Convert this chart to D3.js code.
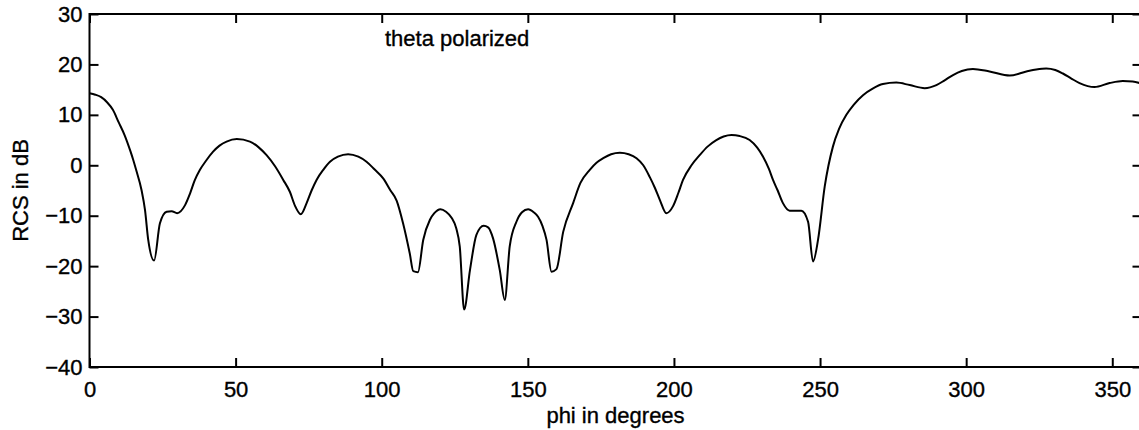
<!DOCTYPE html>
<html>
<head>
<meta charset="utf-8">
<script src="https://cdn.jsdelivr.net/npm/d3@7"></script>
<style>
  html, body { margin: 0; padding: 0; background: #fff; }
  svg { display: block; }
  text { font-family: "Liberation Sans", Arial, Helvetica, sans-serif; fill: #000; stroke: #000; stroke-width: 0.35px; }
</style>
</head>
<body>
<svg id="chart" width="1139" height="430"></svg>
<script>
// ---- data ----
const phi = [0,2,4,6,8,10,12,14,15,16,17.8,19,20.1,22.1,24.1,26.4,28.1,30,32.7,34.4,36,37.8,40,42.3,44.5,46.9,50.4,54.9,58,60.6,63.5,66.3,68.6,70.3,72.3,74.3,76,77.7,80,82.3,85,88.5,92,94.8,97.5,100.5,103,105.1,107.3,109.6,110.8,112.4,114.2,116.5,118,120.1,122,123.9,125.5,126.7,128.2,130.2,132.4,134.9,136.4,138.1,140.4,142.1,143.8,146.1,148,150.1,152,153.5,155,156.4,158.1,159.8,162.1,165.5,168,171.2,173.5,175.8,178.5,181.5,184.5,187.2,189.5,191.7,193.5,195.2,197.4,199.7,201.5,203.1,206,208.8,211.5,214.5,217,219.7,222.5,225.9,228.5,230.5,232.5,233.9,235.5,237.3,239.6,243.6,245.9,247.6,249.3,251.6,254.4,256.5,259,261.5,264.7,268,271.5,276.1,280.7,285.8,289.8,292.5,295.5,298.5,302.3,308,314.9,320.6,324,327.4,330.5,333.1,336,338.8,343.9,349.1,353.6,357,360];
const rcs = [14.3,14.0,13.5,12.5,11.0,8.5,6.0,2.8,1.0,-1.0,-4.9,-8.9,-14.8,-18.9,-11.5,-9.2,-9.1,-9.5,-7.9,-5.6,-3.0,-0.9,1.0,2.7,3.9,4.7,5.2,4.7,3.5,2.0,-0.2,-2.9,-5.3,-8.0,-9.7,-7.5,-5.0,-2.9,-0.9,0.7,1.7,2.2,1.7,0.7,-0.8,-2.6,-5.0,-7.0,-11.5,-17.5,-21.0,-21.2,-14.8,-10.8,-9.5,-8.7,-9.2,-10.4,-12.5,-16.1,-28.6,-20.8,-13.8,-12.0,-12.3,-14.5,-20.8,-26.7,-16.1,-11.2,-9.3,-8.7,-9.3,-10.2,-12.0,-14.8,-21.1,-20.6,-13.2,-7.5,-3.5,-0.9,0.5,1.4,2.2,2.5,2.2,1.4,0.0,-2.3,-4.5,-6.9,-9.5,-8.1,-5.5,-2.9,0.0,2.0,3.7,5.0,5.7,6.0,5.8,5.0,3.5,1.7,-0.7,-2.9,-5.0,-7.5,-9.0,-9.0,-11.2,-19.1,-14.8,-4.2,3.7,7.2,10.0,12.0,13.9,15.2,16.1,16.4,15.9,15.3,15.9,16.8,17.9,18.7,19.1,18.6,17.8,18.6,19.0,19.2,18.9,18.2,17.2,16.3,15.5,16.3,16.7,16.6,16.2];
const xTicks = [0,50,100,150,200,250,300,350];
const yTicks = [-40,-30,-20,-10,0,10,20,30];
const xLabel = "phi in degrees";
const yLabel = "RCS in dB";
const annotation = "theta polarized";

// ---- layout ----
const svg = d3.select("#chart");
const mLeft = 89.5, mRight = 1141.5, mTop = 14, mBottom = 367;
const x = d3.scaleLinear().domain([0, 360]).range([mLeft, mRight]);
const y = d3.scaleLinear().domain([-40, 30]).range([mBottom, mTop]);
const fontSize = 22;
const fmt = d => d < 0 ? "\u2212" + Math.abs(d) : String(d);

// frame
svg.append("rect")
  .attr("x", mLeft).attr("y", mTop)
  .attr("width", mRight - mLeft).attr("height", mBottom - mTop)
  .attr("fill", "none").attr("stroke", "#000").attr("stroke-width", 2);

function styleAxis(g) {
  g.select(".domain").remove();
  g.selectAll(".tick line").attr("stroke", "#000").attr("stroke-width", 2);
  g.selectAll(".tick text").attr("font-size", fontSize)
    .attr("font-family", "'Liberation Sans', Arial, Helvetica, sans-serif").attr("fill", "#000");
}

svg.append("g").attr("transform", `translate(0,${mBottom})`)
  .call(d3.axisBottom(x).tickValues(xTicks).tickSize(-9).tickPadding(14).tickFormat(fmt))
  .call(styleAxis);
svg.append("g").attr("transform", `translate(0,${mTop})`)
  .call(d3.axisTop(x).tickValues(xTicks).tickSize(-9).tickFormat(""))
  .call(styleAxis);
svg.append("g").attr("transform", `translate(${mLeft},0)`)
  .call(d3.axisLeft(y).tickValues(yTicks).tickSize(-9).tickPadding(7).tickFormat(fmt))
  .call(styleAxis);
svg.append("g").attr("transform", `translate(${mRight},0)`)
  .call(d3.axisRight(y).tickValues(yTicks).tickSize(-9).tickFormat(""))
  .call(styleAxis);

// curve
const pts = phi.map((p, i) => [p, rcs[i]]);
svg.append("path")
  .datum(pts)
  .attr("fill", "none").attr("stroke", "#000").attr("stroke-width", 2)
  .attr("stroke-linejoin", "round")
  .attr("d", d3.line().x(d => x(d[0])).y(d => y(d[1])).curve(d3.curveMonotoneX));

// texts
svg.append("text").attr("x", 385).attr("y", 46).attr("font-size", fontSize).text(annotation);
svg.append("text").attr("x", (mLeft + mRight) / 2).attr("y", 423)
  .attr("text-anchor", "middle").attr("font-size", fontSize).text(xLabel);
svg.append("text").attr("transform", `translate(28,${(mTop + mBottom) / 2}) rotate(-90)`)
  .attr("text-anchor", "middle").attr("font-size", fontSize).text(yLabel);
</script>
</body>
</html>
